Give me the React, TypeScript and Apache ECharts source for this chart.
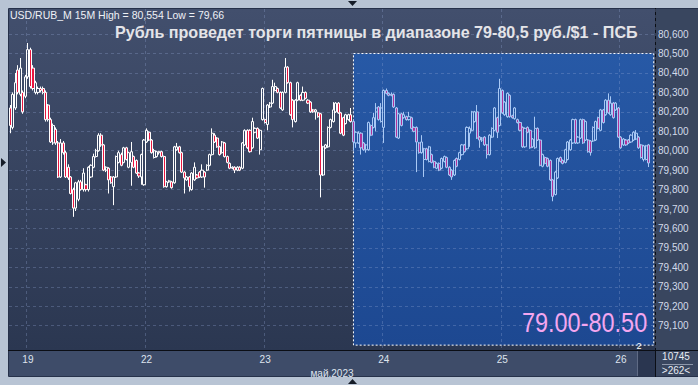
import React, { useEffect, useRef } from "react";
import * as echarts from "echarts";

// ---------- data ----------
// [open, close, low, high] for USD/RUB 15-minute candles
const realCandles: number[][] = [
  [80.22, 80.13, 80.09, 80.235], [80.12, 80.29, 80.11, 80.3], [80.22, 80.35, 80.21, 80.4], [80.415, 80.3, 80.29, 80.44],
  [80.29, 80.425, 80.28, 80.477], [80.3, 80.2, 80.19, 80.31], [80.28, 80.38, 80.27, 80.39], [80.38, 80.52, 80.37, 80.554],
  [80.52, 80.33, 80.32, 80.53], [80.425, 80.32, 80.31, 80.44], [80.3, 80.35, 80.29, 80.36], [80.3, 80.32, 80.29, 80.33],
  [80.32, 80.31, 80.3, 80.33], [80.32, 80.3, 80.29, 80.33], [80.3, 80.16, 80.15, 80.31], [80.235, 80.16, 80.15, 80.24],
  [80.16, 80.045, 80.04, 80.17], [80.04, 80.13, 80.03, 80.14], [80.11, 80.04, 80.03, 80.12], [80.04, 79.865, 79.86, 80.05],
  [79.865, 80.04, 79.86, 80.06], [80.04, 79.99, 79.98, 80.05], [79.99, 79.865, 79.86, 80.0], [79.915, 79.86, 79.85, 79.93],
  [79.865, 79.78, 79.775, 79.87], [79.8, 79.705, 79.66, 79.81], [79.705, 79.835, 79.69, 79.84], [79.75, 79.84, 79.74, 79.85],
  [79.84, 79.8, 79.795, 79.85], [79.8, 79.885, 79.79, 79.91], [79.825, 79.8, 79.79, 79.83], [79.8, 79.915, 79.79, 79.92],
  [79.865, 79.925, 79.86, 79.93], [79.915, 79.97, 79.91, 79.985], [79.97, 80.0, 79.965, 80.01], [80.0, 80.08, 79.995, 80.09],
  [80.08, 80.03, 80.02, 80.09], [80.03, 79.9, 79.895, 80.035], [79.9, 79.915, 79.89, 79.92], [79.91, 79.85, 79.78, 79.915],
  [79.865, 79.835, 79.83, 79.87], [79.815, 79.865, 79.72, 79.87], [79.865, 79.97, 79.86, 79.975], [79.94, 79.99, 79.935, 80.0],
  [79.98, 79.925, 79.92, 79.99], [79.94, 80.015, 79.935, 80.02], [80.015, 79.955, 79.95, 80.02], [79.915, 79.99, 79.91, 79.995],
  [79.94, 79.995, 79.82, 80.045], [79.97, 79.915, 79.91, 79.975], [79.95, 79.885, 79.88, 79.955], [79.885, 79.87, 79.86, 79.89],
  [79.865, 79.98, 79.825, 79.985], [79.825, 80.055, 79.82, 80.06], [80.045, 80.105, 80.04, 80.115], [80.095, 80.055, 80.05, 80.1],
  [80.055, 79.99, 79.985, 80.06], [79.965, 80.0, 79.96, 80.01], [79.97, 79.995, 79.965, 80.0], [79.995, 79.99, 79.98, 80.0],
  [79.995, 79.97, 79.965, 80.0], [79.97, 79.815, 79.81, 79.975], [79.815, 79.84, 79.81, 79.845], [79.84, 79.845, 79.835, 79.85],
  [79.84, 79.81, 79.805, 79.845], [79.835, 80.02, 79.83, 80.025], [80.005, 80.02, 80.0, 80.04], [80.02, 79.99, 79.985, 80.025],
  [79.99, 79.89, 79.885, 79.995], [79.89, 79.86, 79.78, 79.895], [79.85, 79.865, 79.845, 79.87], [79.865, 79.815, 79.79, 79.87],
  [79.8, 79.885, 79.795, 79.89], [79.85, 79.915, 79.845, 79.94], [79.875, 79.86, 79.855, 79.88], [79.89, 79.865, 79.86, 79.895],
  [79.865, 79.9, 79.86, 79.93], [79.89, 79.865, 79.81, 79.895], [79.9, 79.925, 79.895, 79.93], [79.925, 79.98, 79.92, 79.985],
  [79.98, 80.09, 79.975, 80.115], [80.08, 80.045, 80.04, 80.09], [80.065, 80.02, 80.015, 80.07], [80.02, 79.98, 79.975, 80.025],
  [79.99, 80.045, 79.985, 80.05], [80.04, 79.97, 79.965, 80.045], [79.97, 79.94, 79.935, 79.975], [79.935, 79.91, 79.905, 79.94],
  [79.91, 79.915, 79.905, 79.92], [79.915, 79.9, 79.885, 79.92], [79.9, 79.915, 79.895, 79.92], [79.915, 79.9, 79.895, 79.92],
  [79.91, 80.04, 79.905, 80.045], [80.03, 80.105, 80.025, 80.11], [80.105, 80.015, 80.01, 80.11], [80.105, 79.995, 79.99, 80.11],
  [80.015, 80.15, 80.01, 80.17], [80.095, 80.115, 80.09, 80.12], [80.115, 80.065, 80.06, 80.12], [80.005, 80.105, 79.98, 80.11],
  [80.16, 80.32, 80.155, 80.325], [80.16, 80.145, 80.14, 80.165], [80.135, 80.235, 80.105, 80.24], [80.225, 80.245, 80.22, 80.25],
  [80.245, 80.33, 80.24, 80.365], [80.31, 80.33, 80.305, 80.35], [80.32, 80.3, 80.295, 80.325], [80.3, 80.22, 80.215, 80.305],
  [80.21, 80.3, 80.205, 80.305], [80.3, 80.43, 80.295, 80.477], [80.43, 80.35, 80.345, 80.435], [80.35, 80.185, 80.18, 80.355],
  [80.26, 80.16, 80.12, 80.265], [80.15, 80.26, 80.145, 80.265], [80.26, 80.35, 80.255, 80.355], [80.285, 80.26, 80.255, 80.29],
  [80.26, 80.3, 80.255, 80.33], [80.3, 80.27, 80.265, 80.305], [80.26, 80.245, 80.24, 80.265], [80.25, 80.2, 80.195, 80.255],
  [80.21, 80.2, 80.195, 80.215], [80.2, 80.21, 80.16, 80.215], [80.195, 80.175, 80.17, 80.2], [80.19, 79.875, 79.76, 80.195],
  [79.875, 80.02, 79.87, 80.025], [80.015, 80.03, 80.01, 80.035], [80.02, 80.12, 80.015, 80.125], [80.12, 80.16, 80.115, 80.165],
  [80.15, 80.21, 80.145, 80.25], [80.2, 80.245, 80.195, 80.25], [80.245, 80.195, 80.19, 80.25], [80.195, 80.09, 80.085, 80.2],
  [80.17, 80.08, 80.075, 80.175], [80.14, 80.185, 80.135, 80.19], [80.16, 80.185, 80.155, 80.19], [80.185, 80.15, 80.145, 80.22],
];

// projected path drawn inside the blue box
const projectionCandles: number[][] = [
  [80.15, 80.045, 80.0, 80.16], [80.04, 80.095, 80.015, 80.1], [80.04, 80.09, 80.035, 80.1], [80.09, 80.015, 79.98, 80.095],
  [80.04, 80.005, 80.0, 80.045], [80.005, 80.03, 79.99, 80.035], [80.005, 80.145, 80.0, 80.15], [80.13, 80.08, 80.075, 80.135],
  [80.12, 80.17, 80.115, 80.195], [80.2, 80.22, 80.1, 80.245], [80.225, 80.16, 80.155, 80.23], [80.15, 80.22, 80.145, 80.245],
  [80.12, 80.31, 80.04, 80.315], [80.31, 80.295, 80.29, 80.32], [80.295, 80.285, 80.28, 80.3], [80.29, 80.285, 80.28, 80.3],
  [80.29, 80.225, 80.22, 80.295], [80.22, 80.07, 80.065, 80.225], [80.065, 80.19, 80.06, 80.195], [80.19, 80.13, 80.125, 80.195],
  [80.17, 80.185, 80.165, 80.2], [80.175, 80.16, 80.155, 80.18], [80.16, 80.175, 80.155, 80.2], [80.17, 80.115, 80.11, 80.175],
  [80.12, 80.1, 80.095, 80.125], [80.12, 80.045, 79.89, 80.125], [80.04, 79.99, 79.985, 80.045], [79.99, 80.045, 79.985, 80.08],
  [79.955, 80.01, 79.865, 80.015], [80.01, 79.955, 79.95, 80.015], [79.945, 80.02, 79.94, 80.025], [79.98, 79.94, 79.935, 79.985],
  [79.945, 79.915, 79.91, 79.95], [79.91, 79.935, 79.905, 79.94], [79.935, 79.9, 79.895, 79.94], [79.91, 79.96, 79.905, 79.965],
  [79.945, 79.97, 79.94, 79.975], [79.965, 79.915, 79.91, 79.97], [79.915, 79.875, 79.87, 79.92], [79.9, 79.865, 79.85, 79.905],
  [79.875, 79.95, 79.87, 79.955], [79.96, 79.92, 79.915, 79.965], [79.955, 79.99, 79.95, 79.995], [79.98, 80.03, 79.975, 80.035],
  [80.03, 79.995, 79.99, 80.035], [80.01, 80.12, 80.005, 80.125], [80.09, 80.115, 80.02, 80.125], [80.105, 80.2, 80.1, 80.205],
  [80.15, 80.2, 80.145, 80.205], [80.2, 80.065, 80.06, 80.235], [80.07, 80.055, 80.015, 80.075], [80.055, 80.065, 80.045, 80.07],
  [80.07, 80.03, 80.025, 80.075], [80.03, 79.98, 79.96, 80.035], [79.98, 80.08, 79.975, 80.085], [80.07, 80.115, 80.065, 80.12],
  [80.105, 80.22, 80.1, 80.225], [80.17, 80.095, 80.065, 80.175], [80.13, 80.32, 80.125, 80.37], [80.31, 80.195, 80.19, 80.315],
  [80.185, 80.25, 80.18, 80.255], [80.175, 80.295, 80.17, 80.3], [80.285, 80.175, 80.17, 80.29], [80.18, 80.17, 80.165, 80.185],
  [80.165, 80.22, 80.16, 80.225], [80.16, 80.145, 80.14, 80.165], [80.145, 80.105, 80.1, 80.15], [80.12, 80.02, 80.015, 80.125],
  [80.02, 80.115, 80.015, 80.12], [80.12, 80.095, 80.09, 80.125], [80.105, 80.015, 80.01, 80.11], [80.02, 80.06, 80.015, 80.065],
  [80.015, 80.115, 80.01, 80.175], [80.115, 80.055, 80.05, 80.12], [80.055, 79.925, 79.92, 80.06], [79.92, 79.98, 79.915, 79.985],
  [79.965, 79.935, 79.93, 79.97], [79.96, 79.92, 79.915, 79.965], [79.95, 79.85, 79.845, 79.955], [79.85, 79.765, 79.74, 79.855],
  [79.775, 79.89, 79.77, 79.895], [79.86, 79.96, 79.855, 79.965], [79.965, 79.945, 79.94, 79.97], [79.95, 79.935, 79.93, 79.955],
  [79.94, 80.005, 79.935, 80.01], [79.955, 80.045, 79.95, 80.05], [80.005, 80.055, 80.0, 80.06], [80.04, 80.16, 80.035, 80.165],
  [80.16, 80.04, 80.035, 80.165], [80.04, 80.07, 80.035, 80.075], [80.065, 80.16, 80.06, 80.165], [80.16, 80.04, 80.035, 80.165],
  [80.055, 80.15, 80.05, 80.155], [80.055, 79.995, 79.99, 80.06], [80.05, 79.99, 79.975, 80.055], [80.05, 80.12, 80.045, 80.125],
  [80.055, 80.15, 80.05, 80.155], [80.17, 80.115, 80.11, 80.175], [80.105, 80.21, 80.1, 80.215], [80.21, 80.145, 80.14, 80.215],
  [80.185, 80.26, 80.18, 80.265], [80.26, 80.195, 80.19, 80.295], [80.185, 80.245, 80.18, 80.28], [80.245, 80.17, 80.165, 80.25],
  [80.21, 80.245, 80.205, 80.25], [80.22, 80.07, 80.065, 80.225], [80.07, 80.015, 80.01, 80.075], [80.03, 80.06, 80.025, 80.065],
  [80.055, 80.03, 80.025, 80.06], [80.055, 80.04, 80.035, 80.06], [80.045, 80.08, 80.04, 80.085], [80.055, 80.095, 80.05, 80.1],
  [80.06, 80.09, 80.055, 80.106], [80.07, 80.015, 80.01, 80.075], [80.03, 79.965, 79.96, 80.035], [79.955, 80.025, 79.945, 80.03],
  [79.955, 80.025, 79.95, 80.03], [80.03, 79.937, 79.916, 80.035],
];

const slotCount = 256; // visible bar slots on the time axis
const dayStartIndex = [7, 54, 101, 148, 195, 242];
const dayLabels = ["19", "22", "23", "24", "25", "26"];
const priceTicks = [79.1, 79.2, 79.3, 79.4, 79.5, 79.6, 79.7, 79.8, 79.9, 80.0, 80.1, 80.2, 80.3, 80.4, 80.5, 80.6];
const priceMin = 78.975;
const priceMax = 80.729;
const forecastLow = 79.0;
const forecastHigh = 80.5;
const headerText = "USD/RUB_M 15M High = 80,554 Low = 79,66";
const titleText = "Рубль проведет торги пятницы в диапазоне 79-80,5 руб./$1 - ПСБ";
const rangeText = "79.00-80.50";
const monthText = "май.2023";
const volumeText = "10745";
const barsText = ">262<";
const shiftText = "2";

const FONT = '"Liberation Sans", Arial, Helvetica, sans-serif';

export default function App() {
  const ref = useRef<HTMLDivElement>(null);

  useEffect(() => {
    if (!ref.current) return;
    const chart = echarts.init(ref.current, null, { renderer: "svg" });

    const categories = Array.from({ length: slotCount }, (_, i) => "c" + i);
    const dayAt = new Map<number, string>(dayStartIndex.map((idx, k) => [idx, dayLabels[k]]));
    const isDayStart = (i: number) => dayAt.has(i);
    const projSeries: any[] = [...realCandles.map(() => "-"), ...projectionCandles];
    const firstProj = realCandles.length;
    const lastClose = projectionCandles[projectionCandles.length - 1][1];
    const fmt = (v: number) => v.toFixed(3).replace(".", ",");

    const plotBg = new echarts.graphic.LinearGradient(0, 0, 0, 1, [
      { offset: 0, color: "#424f6d" },
      { offset: 1, color: "#2b3751" },
    ]);
    const boxBg = new echarts.graphic.LinearGradient(0, 0, 0, 1, [
      { offset: 0, color: "#2759a6" },
      { offset: 1, color: "#1d4891" },
    ]);

    chart.setOption({
      animation: false,
      backgroundColor: "#b8c4d4",
      textStyle: { fontFamily: FONT },
      grid: {
        left: 9,
        top: 9,
        width: 646,
        height: 341,
        show: true,
        backgroundColor: plotBg,
        borderWidth: 0,
      },
      xAxis: {
        type: "category",
        data: categories,
        boundaryGap: true,
        z: 1.5,
        axisLine: { show: false },
        axisTick: { show: false, interval: (i: number) => isDayStart(i) },
        axisLabel: {
          interval: (i: number) => isDayStart(i),
          formatter: (_v: string, i: number) => dayAt.get(i) ?? "",
          color: "#dfe4ee",
          fontSize: 10,
          margin: 4,
          fontFamily: FONT,
        },
        splitLine: {
          show: true,
          interval: (i: number) => isDayStart(i),
          lineStyle: { color: "rgba(150,170,215,0.3)", type: [3, 3], width: 1 },
        },
        name: monthText,
        nameLocation: "middle",
        nameGap: 13,
        nameTextStyle: { color: "#dfe4ee", fontSize: 10, fontFamily: FONT, verticalAlign: "top" },
      },
      yAxis: {
        type: "value",
        position: "right",
        min: priceMin,
        max: priceMax,
        z: 1.5,
        axisLine: { show: false },
        axisTick: { show: false, customValues: priceTicks },
        axisLabel: {
          customValues: priceTicks,
          formatter: (v: number) => fmt(v),
          color: "#d3dbea",
          fontSize: 10,
          margin: 3,
          fontFamily: FONT,
        },
        splitLine: {
          show: true,
          lineStyle: { color: "rgba(150,170,215,0.3)", type: [3, 3], width: 1 },
        },
      },
      series: [
        {
          type: "candlestick",
          name: "USD/RUB",
          data: realCandles,
          barWidth: 2.6,
          z: 3,
          itemStyle: {
            color: "rgba(0,0,0,0)",
            color0: "#e8163f",
            borderColor: "#ffffff",
            borderColor0: "#ffffff",
            borderColorDoji: "#ffffff",
            borderWidth: 1,
          },
        },
        {
          type: "candlestick",
          name: "Прогноз",
          data: projSeries,
          barWidth: 2.6,
          z: 3,
          itemStyle: {
            color: "rgba(0,0,0,0)",
            color0: "#b0329a",
            borderColor: "#a9c9f5",
            borderColor0: "#a9c9f5",
            borderColorDoji: "#a9c9f5",
            borderWidth: 1,
          },
          markArea: {
            silent: true,
            z: 1,
            itemStyle: {
              color: boxBg,
              borderColor: "#ffffff",
              borderWidth: 1,
              borderType: [2, 2],
            },
            label: { show: false },
            data: [[{ xAxis: firstProj, yAxis: forecastHigh }, { xAxis: slotCount - 1, yAxis: forecastLow }]],
          },
          markLine: {
            silent: true,
            z: 6,
            symbol: "none",
            lineStyle: { opacity: 0 },
            label: {
              show: true,
              position: "end",
              distance: 4,
              formatter: fmt(lastClose),
              backgroundColor: "#c9ccd3",
              color: "#141a28",
              fontSize: 10,
              lineHeight: 11,
              padding: [0, 8, 0, 2],
              fontFamily: FONT,
            },
            data: [{ yAxis: lastClose }],
          },
        },
      ],
      graphic: [
        { type: "rect", z: 0, shape: { x: 656, y: 9, width: 42, height: 368 }, style: { fill: "#39465f" } },
        { type: "rect", z: 0, shape: { x: 9, y: 351, width: 646, height: 26 }, style: { fill: "#3e4c69" } },
        { type: "rect", z: 0, shape: { x: 637, y: 351, width: 18, height: 26 }, style: { fill: "#2a3650" } },
        { type: "line", z: 0, shape: { x1: 637.5, y1: 351, x2: 637.5, y2: 377 }, style: { stroke: "#5f6b85", lineWidth: 1 } },
        { type: "rect", z: 0, shape: { x: 8.5, y: 8.5, width: 690, height: 368 }, style: { fill: "none", stroke: "#26314a", lineWidth: 1 } },
        { type: "line", z: 0, shape: { x1: 655.5, y1: 8, x2: 655.5, y2: 377 }, style: { stroke: "#0b0e15", lineWidth: 1 } },
        { type: "line", z: 0, shape: { x1: 8, y1: 350.5, x2: 698, y2: 350.5 }, style: { stroke: "#0b0e15", lineWidth: 1 } },
        { type: "line", z: 0, shape: { x1: 662, y1: 364.5, x2: 693, y2: 364.5 }, style: { stroke: "#8d97aa", lineWidth: 1 } },
        { type: "polygon", z: 10, shape: { points: [[1, 158], [6, 162.5], [1, 167]] }, style: { fill: "#151c28" } },
        { type: "polygon", z: 10, shape: { points: [[348, 1], [357, 1], [352.5, 6]] }, style: { fill: "#151c28" } },
        { type: "polygon", z: 10, shape: { points: [[348, 384], [357, 384], [352.5, 379]] }, style: { fill: "#151c28" } },
        {
          type: "text", z: 10, x: 10, y: 15,
          style: { text: headerText, fill: "#eef1f6", fontSize: 10.5, fontFamily: FONT, verticalAlign: "middle" },
        },
        {
          type: "text", z: 10, x: 115, y: 32,
          style: { text: titleText, fill: "#e4e4e8", fontSize: 16.1, fontWeight: "bold", fontFamily: FONT, verticalAlign: "middle" },
        },
        {
          type: "text", z: 10, x: 639, y: 345.5,
          style: { text: shiftText, fill: "#ffffff", fontSize: 9, fontFamily: FONT, align: "center", verticalAlign: "middle" },
        },
        {
          type: "text", z: 10, x: 676, y: 356,
          style: { text: volumeText, fill: "#e8ecf3", fontSize: 10, fontFamily: FONT, align: "center", verticalAlign: "middle" },
        },
        {
          type: "text", z: 10, x: 676, y: 370.5,
          style: { text: barsText, fill: "#e8ecf3", fontSize: 10, fontFamily: FONT, align: "center", verticalAlign: "middle" },
        },
      ],
    });

    // range caption anchored to the forecast box's bottom-right corner (from data)
    const corner = chart.convertToPixel({ gridIndex: 0 }, [slotCount - 1, forecastLow]) as number[];
    chart.setOption({
      graphic: [
        {
          id: "rangeCaption",
          type: "text",
          z: 10,
          x: corner[0] - 6.5,
          y: corner[1] - 9,
          scaleY: 1.2,
          style: {
            text: rangeText,
            fill: "#f4a6ef",
            fontSize: 23.5,
            fontFamily: FONT,
            align: "right",
            verticalAlign: "bottom",
          },
        },
      ],
    });

    return () => chart.dispose();
  }, []);

  return <div ref={ref} style={{ position: "fixed", left: 0, top: 0, width: 698, height: 385 }} />;
}
